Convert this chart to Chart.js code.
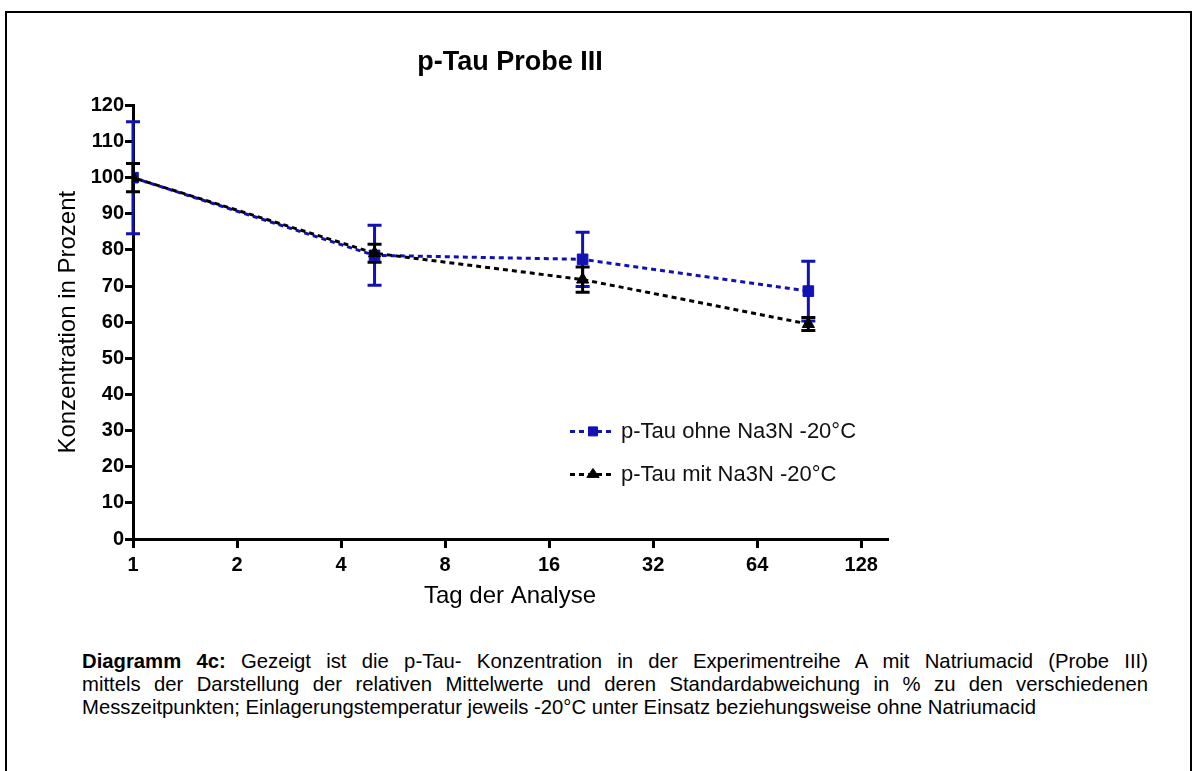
<!DOCTYPE html>
<html>
<head>
<meta charset="utf-8">
<title>p-Tau Probe III</title>
<script src="https://cdn.jsdelivr.net/npm/chart.js@4.4.1/dist/chart.umd.min.js"></script>
<style>
  body { margin: 0; background: #fff; width: 1196px; height: 771px; overflow: hidden; font-family: "Liberation Sans", Arial, sans-serif; }
  #frame { position: absolute; left: 5px; top: 11px; width: 1183px; height: 800px; border: 2px solid #000; border-bottom: none; }
  #wrap { position: absolute; left: 0; top: 0; width: 1196px; height: 620px; }
  #caption { position: absolute; left: 82px; top: 650px; width: 1066px; font-size: 20.3px; line-height: 23px; color: #000; }
  #caption div { text-align: justify; text-align-last: justify; }
  #caption div.last { text-align-last: left; }
</style>
</head>
<body>
<div id="frame"></div>
<div id="wrap"><canvas id="graph"></canvas></div>
<div id="caption">
  <div><b>Diagramm 4c:</b> Gezeigt ist die p-Tau- Konzentration in der Experimentreihe A mit Natriumacid (Probe III)</div>
  <div>mittels der Darstellung der relativen Mittelwerte und deren Standardabweichung in % zu den verschiedenen</div>
  <div class="last">Messzeitpunkten; Einlagerungstemperatur jeweils -20°C unter Einsatz beziehungsweise ohne Natriumacid</div>
</div>
<script>
  /// data ///
  const days = [1, 5, 20, 90]
  const ohneMean = [100, 78.5, 77.4, 68.6]
  const ohneSD = [15.5, 8.3, 7.5, 8.3]
  const mitMean = [100, 79.1, 71.8, 59.5]
  const mitSD = [3.9, 2.5, 3.5, 1.8]
  const xTicks = [1, 2, 4, 8, 16, 32, 64, 128]
  const labels = ['p-Tau ohne Na3N -20°C', 'p-Tau mit Na3N -20°C']

  const FONT = '"Liberation Sans", Arial, sans-serif'
  Chart.defaults.font.family = FONT
  Chart.defaults.color = '#000'

  function points(mean) {
    return days.map((d, i) => ({ x: d, y: mean[i] }))
  }

  // small marker painter, used for the legend
  function marker(ctx, style, r, x, y) {
    ctx.beginPath()
    if (style === 'rect') {
      const s = r * Math.SQRT1_2
      ctx.rect(x - s, y - s, 2 * s, 2 * s)
    } else {
      const h = r * 1.5
      ctx.moveTo(x, y - r)
      ctx.lineTo(x + r * 0.866 * 1.2, y + h - r)
      ctx.lineTo(x - r * 0.866 * 1.2, y + h - r)
      ctx.closePath()
    }
    ctx.fill()
    ctx.stroke()
  }

  //// error bars ////
  const errorBars = {
    id: 'errorBars',
    beforeDatasetsDraw(chart) {
      const ctx = chart.ctx
      const ys = chart.scales.y
      chart.data.datasets.forEach((ds, di) => {
        const meta = chart.getDatasetMeta(di)
        ctx.save()
        ctx.strokeStyle = ds.borderColor
        ctx.lineWidth = 3
        meta.data.forEach((pt, i) => {
          const m = ds.data[i].y
          const top = ys.getPixelForValue(m + ds.errors[i])
          const bot = ys.getPixelForValue(m - ds.errors[i])
          ctx.beginPath()
          ctx.moveTo(pt.x, top); ctx.lineTo(pt.x, bot)
          ctx.moveTo(pt.x - 7, top); ctx.lineTo(pt.x + 7, top)
          ctx.moveTo(pt.x - 7, bot); ctx.lineTo(pt.x + 7, bot)
          ctx.stroke()
        })
        ctx.restore()
      })
    }
  }

  //// legend inside plot ////
  const plotLegend = {
    id: 'plotLegend',
    afterDraw(chart) {
      const ctx = chart.ctx
      const a = chart.chartArea
      let lx = a.left + 437
      let ly = a.top + 326
      chart.data.datasets.forEach(ds => {
        ctx.save()
        ctx.strokeStyle = ds.borderColor
        ctx.lineWidth = 3
        ctx.setLineDash(ds.borderDash)
        ctx.beginPath()
        ctx.moveTo(lx, ly); ctx.lineTo(lx + 42, ly)
        ctx.stroke()
        ctx.setLineDash([])
        ctx.fillStyle = ds.pointBackgroundColor
        ctx.lineWidth = 1
        marker(ctx, ds.pointStyle, ds.pointRadius * 0.85, lx + 23, ly)
        ctx.fillStyle = '#111'
        ctx.font = '22px ' + FONT
        ctx.textBaseline = 'middle'
        ctx.fillText(ds.label, lx + 51, ly + 1)
        ctx.restore()
        ly += 43
      })
    }
  }

  const axisGrid = { drawOnChartArea: false, color: '#000', lineWidth: 3 }
  const axisBorder = { color: '#000', width: 3 }

  const ctx = document.getElementById('graph').getContext('2d')
  const myChart = new Chart(ctx, {
    type: 'line',
    data: {
      datasets: [{
        label: labels[0],
        data: points(ohneMean),
        errors: ohneSD,
        borderColor: '#1212b4',
        pointBackgroundColor: '#1212b4',
        borderWidth: 3,
        borderDash: [5, 4],
        pointStyle: 'rect',
        pointRadius: 7.5,
        pointBorderWidth: 1,
        tension: 0,
        order: 1
      }, {
        label: labels[1],
        data: points(mitMean),
        errors: mitSD,
        borderColor: '#000000',
        pointBackgroundColor: '#000000',
        borderWidth: 3,
        borderDash: [5, 4],
        borderDashOffset: 4.5,
        pointStyle: 'triangle',
        pointRadius: 7,
        pointBorderWidth: 1,
        tension: 0,
        order: 0
      }]
    },
    options: {
      responsive: true,
      maintainAspectRatio: false,
      animation: false,
      layout: { padding: { left: 0, right: 309, top: 0, bottom: 1 } },
      plugins: {
        legend: { display: false },
        tooltip: { enabled: false },
        title: {
          display: true,
          text: 'p-Tau Probe III',
          fullSize: false,
          color: '#000',
          font: { size: 27, weight: 'bold' },
          padding: { top: 46, bottom: 27 }
        }
      },
      scales: {
        x: {
          type: 'logarithmic',
          min: 1,
          max: 152,
          bounds: 'data',
          afterBuildTicks: s => { s.ticks = xTicks.map(v => ({ value: v })) },
          afterFit: s => { s.height = 80 },
          grid: Object.assign({ tickLength: 9 }, axisGrid),
          border: axisBorder,
          ticks: {
            color: '#000',
            autoSkip: false,
            maxRotation: 0,
            padding: 5,
            font: { size: 20, weight: 'bold' },
            callback: v => String(v)
          },
          title: {
            display: true,
            text: 'Tag der Analyse',
            color: '#000',
            font: { size: 24 },
            padding: { top: 0, bottom: 8 }
          }
        },
        y: {
          min: 0,
          max: 120,
          afterFit: s => { s.width = 133 },
          grid: Object.assign({ tickLength: 8 }, axisGrid),
          border: axisBorder,
          ticks: {
            stepSize: 10,
            color: '#000',
            padding: 1,
            font: { size: 20, weight: 'bold' }
          },
          title: {
            display: true,
            text: 'Konzentration in Prozent',
            color: '#000',
            font: { size: 24 },
            padding: { top: 54, bottom: 0 }
          }
        }
      }
    },
    plugins: [errorBars, plotLegend]
  })
</script>
</body>
</html>
